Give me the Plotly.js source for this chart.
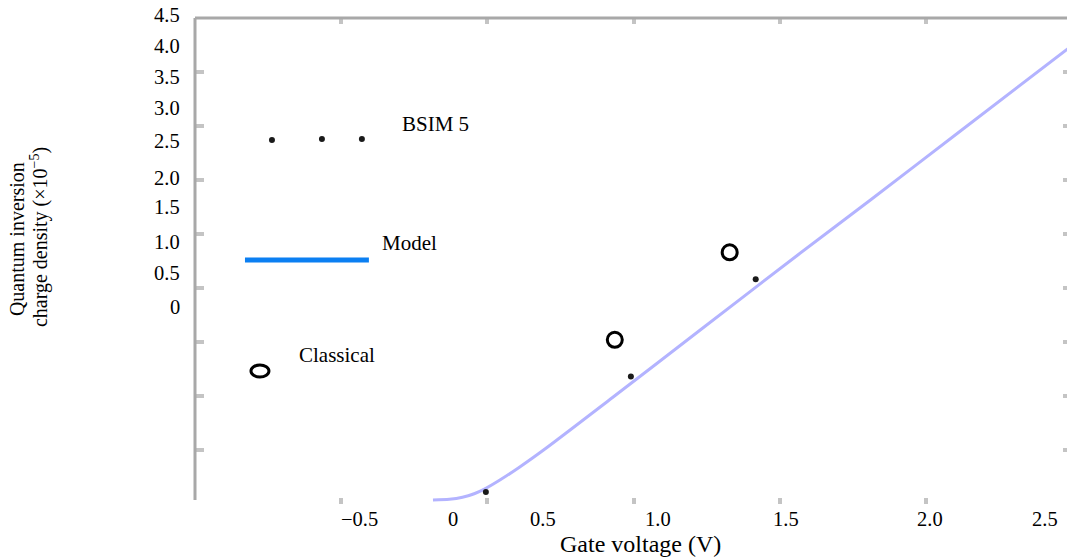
<!DOCTYPE html>
<html>
<head>
<meta charset="utf-8">
<script src="https://cdn.plot.ly/plotly-3.0.1.min.js"></script>
<style>
html,body{margin:0;padding:0;overflow:hidden;background:#fff;}
#chart{width:1080px;height:557px;}
</style>
</head>
<body>
<div id="chart"></div>
<script>
// ---- data (gate voltage V, quantum inversion charge density ×1e-5) ----
const modelV = [-0.186, -0.13, -0.085, -0.045, -0.010, 0.043, 0.111, 0.197, 0.426, 0.726, 1.062, 1.315, 1.615, 2.0];
const modelQ = [0.037, 0.043, 0.062, 0.095, 0.138, 0.222, 0.343, 0.509, 0.981, 1.606, 2.306, 2.824, 3.447, 4.244];
const bsimV = [-0.005, 0.491, 0.918];
const bsimQ = [0.11, 1.18, 2.08];
const classicalV = [0.436, 0.829];
const classicalQ = [1.52, 2.33];
const xTickVals = [-0.5, 0, 0.5, 1.0, 1.5];
const yTickVals = [0.5, 1.0, 1.5, 2.0, 2.5, 3.0, 3.5, 4.0];
const xTickLabels = ['\u22120.5', '0', '0.5', '1.0', '1.5', '2.0', '2.5'];
const yTickLabels = ['0', '0.5', '1.0', '1.5', '2.0', '2.5', '3.0', '3.5', '4.0', '4.5'];
const legendNames = ['BSIM 5', 'Model', 'Classical'];

// ---- layout helpers (pixel positions of the printed labels) ----
const L = 195, R = 1072.5, T = 18, B = 504;
const px = x => (x - L) / (R - L);
const py = y => (B - y) / (B - T);
const xLabelPx = [360, 453, 543, 658, 786, 930, 1045];
const yLabelPx = [307, 273, 242, 207, 178, 141, 108, 77, 46, 15];

const FONT = 'Liberation Serif, Times New Roman, serif';

const traces = [
  {x: modelV, y: modelQ, mode: 'lines', name: legendNames[1], line: {color: '#b3b3ff', width: 3, shape: 'spline', smoothing: 0.7}, hoverinfo: 'skip'},
  {x: bsimV, y: bsimQ, mode: 'markers', name: legendNames[0], marker: {symbol: 'circle', size: 6, color: '#1a1a1a'}},
  {x: classicalV, y: classicalQ, mode: 'markers', name: legendNames[2], marker: {symbol: 'circle-open', size: 15, color: '#000', line: {width: 3, color: '#000'}}}
];

const annotations = [];
xTickLabels.forEach((t, i) => annotations.push({xref: 'paper', yref: 'paper', x: px(xLabelPx[i]), y: py(519), text: t, showarrow: false, xanchor: 'center', yanchor: 'middle', font: {family: FONT, size: 20.5, color: '#000'}}));
yTickLabels.forEach((t, i) => annotations.push({xref: 'paper', yref: 'paper', x: px(182), y: py(yLabelPx[i]), text: t, showarrow: false, xanchor: 'right', yanchor: 'middle', font: {family: FONT, size: 20.5, color: '#000'}}));
annotations.push({xref: 'paper', yref: 'paper', x: px(641), y: py(544), text: 'Gate voltage (V)', showarrow: false, xanchor: 'center', yanchor: 'middle', font: {family: FONT, size: 24, color: '#000'}});
annotations.push({xref: 'paper', yref: 'paper', x: px(17), y: py(239), text: 'Quantum inversion', textangle: -90, showarrow: false, xanchor: 'center', yanchor: 'middle', font: {family: FONT, size: 20, color: '#000'}});
annotations.push({xref: 'paper', yref: 'paper', x: px(39), y: py(237), text: 'charge density (\u00d710<sup>\u22125</sup>)', textangle: -90, showarrow: false, xanchor: 'center', yanchor: 'middle', font: {family: FONT, size: 20, color: '#000'}});
// legend labels
annotations.push({xref: 'paper', yref: 'paper', x: px(436), y: py(124), text: legendNames[0], showarrow: false, xanchor: 'center', yanchor: 'middle', font: {family: FONT, size: 21, color: '#000'}});
annotations.push({xref: 'paper', yref: 'paper', x: px(410), y: py(243), text: legendNames[1], showarrow: false, xanchor: 'center', yanchor: 'middle', font: {family: FONT, size: 21, color: '#000'}});
annotations.push({xref: 'paper', yref: 'paper', x: px(337), y: py(355), text: legendNames[2], showarrow: false, xanchor: 'center', yanchor: 'middle', font: {family: FONT, size: 21, color: '#000'}});

const shapes = [
  // frame lines (left and top only)
  {type: 'line', xref: 'paper', yref: 'paper', x0: 0, x1: 0, y0: py(500), y1: 1, line: {color: '#a8a8a8', width: 3}},
  {type: 'line', xref: 'paper', yref: 'paper', x0: 0, x1: 1, y0: 1, y1: 1, line: {color: '#a8a8a8', width: 3}},
  // legend keys
  {type: 'line', xref: 'paper', yref: 'paper', x0: px(245), x1: px(369), y0: py(260), y1: py(260), line: {color: '#0b7ff2', width: 5}},
  {type: 'circle', xref: 'paper', yref: 'paper', xsizemode: 'pixel', ysizemode: 'pixel', xanchor: px(260), yanchor: py(371), x0: -9, x1: 9, y0: -6, y1: 6, line: {color: '#000', width: 3}}
];
[[272, 140], [322, 139], [362, 139]].forEach(p => shapes.push({type: 'circle', xref: 'paper', yref: 'paper', xsizemode: 'pixel', ysizemode: 'pixel', xanchor: px(p[0]), yanchor: py(p[1]), x0: -3, x1: 3, y0: -3, y1: 3, fillcolor: '#1a1a1a', line: {width: 0}}));

const axisCommon = {showgrid: false, zeroline: false, showline: false, mirror: 'ticks', ticks: 'inside', tickcolor: '#c4c4c4', tickwidth: 4, showticklabels: false};

const layout = {
  width: 1080, height: 557,
  margin: {l: L, r: 1080 - R, t: T, b: 557 - B, pad: 0},
  paper_bgcolor: '#fff', plot_bgcolor: '#fff',
  showlegend: false,
  font: {family: FONT, size: 20, color: '#000'},
  xaxis: Object.assign({}, axisCommon, {range: [-1, 2], tickmode: 'array', tickvals: xTickVals, ticklen: 6}),
  yaxis: Object.assign({}, axisCommon, {range: [0, 4.5], tickmode: 'array', tickvals: yTickVals, ticklen: 9}),
  annotations: annotations,
  shapes: shapes
};

Plotly.newPlot('chart', traces, layout, {displayModeBar: false, staticPlot: true});
</script>
</body>
</html>
